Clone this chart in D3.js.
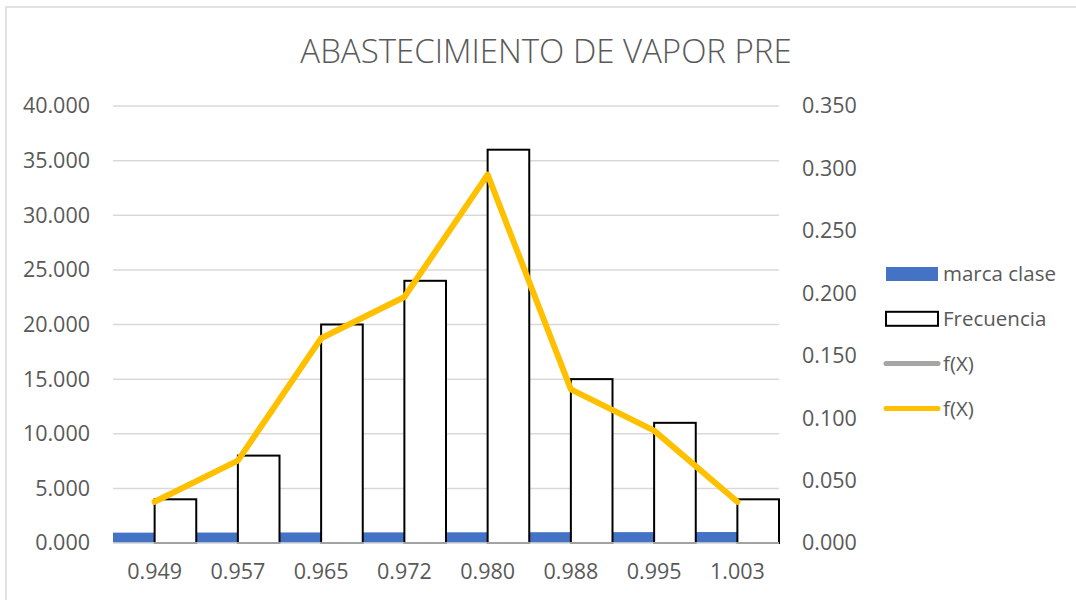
<!DOCTYPE html>
<html>
<head>
<meta charset="utf-8">
<script src="https://cdn.jsdelivr.net/npm/d3@7"></script>
<style>
  body { margin: 0; background: #fff; }
  svg { font-family: "Open Sans", "Noto Sans", sans-serif; }
</style>
</head>
<body>
<svg></svg>
<script>
// chart data
const categories = ['0.949', '0.957', '0.965', '0.972', '0.980', '0.988', '0.995', '1.003'];
const marcaClase = [0.949, 0.957, 0.965, 0.972, 0.980, 0.988, 0.995, 1.003];
const frecuencia = [4, 8, 20, 24, 36, 15, 11, 4];
const fx = [0.033, 0.066, 0.164, 0.197, 0.295, 0.123, 0.090, 0.033];
const leftTicks = [0, 5, 10, 15, 20, 25, 30, 35, 40];
const rightTicks = [0, 0.05, 0.1, 0.15, 0.2, 0.25, 0.3, 0.35];

const size = {w: 1076, h: 600};
const plot = {l: 113, r: 779, t: 106, b: 543};
const textColor = '#595959';

const svg = d3.select('svg')
    .attr('width', size.w)
    .attr('height', size.h);

// chart border
svg.append('rect')
    .attr('x', 6).attr('y', 7)
    .attr('width', size.w + 10).attr('height', size.h + 10)
    .attr('fill', 'none')
    .attr('stroke', '#d9d9d9')
    .attr('stroke-width', 1.5);

// title
svg.append('text')
    .attr('x', 546).attr('y', 63)
    .attr('text-anchor', 'middle')
    .attr('fill', textColor)
    .attr('font-size', 33)
    .attr('font-weight', 300)
    .text('ABASTECIMIENTO DE VAPOR PRE');

// scales
let x = d3.scaleBand()
    .domain(categories)
    .range([plot.l, plot.r])
    .paddingInner(0).paddingOuter(0);

let yLeft = d3.scaleLinear().domain([0, 40]).range([plot.b, plot.t]);
let yRight = d3.scaleLinear().domain([0, 0.35]).range([plot.b, plot.t]);

// gridlines
svg.append('g')
    .selectAll('line')
    .data(leftTicks)
    .enter()
    .append('line')
    .attr('x1', plot.l).attr('x2', plot.r)
    .attr('y1', d => yLeft(d)).attr('y2', d => yLeft(d))
    .attr('stroke', '#d9d9d9')
    .attr('stroke-width', 1.5);

// left axis
let leftAxis = svg.append('g')
    .attr('transform', `translate(${plot.l},0)`)
    .call(d3.axisLeft(yLeft).tickValues(leftTicks).tickFormat(d3.format('.3f')).tickSize(0).tickPadding(23));
leftAxis.select('.domain').remove();

// right axis
let rightAxis = svg.append('g')
    .attr('transform', `translate(${plot.r},0)`)
    .call(d3.axisRight(yRight).tickValues(rightTicks).tickFormat(d3.format('.3f')).tickSize(0).tickPadding(23));
rightAxis.select('.domain').remove();

// bottom axis labels
let bottomAxis = svg.append('g')
    .attr('transform', `translate(0,${plot.b})`)
    .call(d3.axisBottom(x).tickSize(0).tickPadding(21));
bottomAxis.select('.domain').remove();

svg.selectAll('.tick text')
    .attr('fill', textColor)
    .attr('font-size', 21.5)
    .attr('font-family', '"Open Sans", "Noto Sans", sans-serif');

// bars
let half = x.bandwidth() / 2;
let barsG = svg.append('g');

barsG.selectAll('rect.marca')
    .data(marcaClase)
    .enter()
    .append('rect')
    .classed('marca', true)
    .attr('x', (d, i) => x(categories[i]))
    .attr('width', half)
    .attr('y', d => yLeft(d))
    .attr('height', d => plot.b - yLeft(d))
    .attr('fill', '#4472c4');

barsG.selectAll('rect.freq')
    .data(frecuencia)
    .enter()
    .append('rect')
    .classed('freq', true)
    .attr('x', (d, i) => x(categories[i]) + half)
    .attr('width', half)
    .attr('y', d => yLeft(d))
    .attr('height', d => plot.b - yLeft(d))
    .attr('fill', '#fff')
    .attr('stroke', '#000')
    .attr('stroke-width', 2);

// baseline
svg.append('line')
    .attr('x1', plot.l).attr('x2', plot.r)
    .attr('y1', plot.b).attr('y2', plot.b)
    .attr('stroke', '#d9d9d9')
    .attr('stroke-width', 1.5);

// f(X) line on secondary axis
let line = d3.line()
    .x((d, i) => x(categories[i]) + half)
    .y(d => yRight(d));

svg.append('path')
    .datum(fx)
    .attr('d', line)
    .attr('fill', 'none')
    .attr('stroke', '#ffc000')
    .attr('stroke-width', 6)
    .attr('stroke-linejoin', 'round')
    .attr('stroke-linecap', 'round');

// legend
const legendItems = [
    {name: 'marca clase', type: 'bar', fill: '#4472c4', stroke: 'none'},
    {name: 'Frecuencia', type: 'bar', fill: '#fff', stroke: '#000'},
    {name: 'f(X)', type: 'line', stroke: '#a5a5a5'},
    {name: 'f(X)', type: 'line', stroke: '#ffc000'}
];

let legendG = svg.append('g').attr('transform', 'translate(886,274)');
let item = legendG.selectAll('g')
    .data(legendItems)
    .enter()
    .append('g')
    .attr('transform', (d, i) => `translate(0,${i * 44.8})`);

item.filter(d => d.type === 'bar')
    .append('rect')
    .attr('x', 0).attr('y', -7)
    .attr('width', 52).attr('height', 14)
    .attr('fill', d => d.fill)
    .attr('stroke', d => d.stroke)
    .attr('stroke-width', 2);

item.filter(d => d.type === 'line')
    .append('line')
    .attr('x1', 0).attr('x2', 52)
    .attr('y1', 0).attr('y2', 0)
    .attr('stroke', d => d.stroke)
    .attr('stroke-width', 5)
    .attr('stroke-linecap', 'round');

item.append('text')
    .attr('x', 57)
    .attr('dy', '0.35em')
    .attr('fill', textColor)
    .attr('font-size', 20.5)
    .text(d => d.name);
</script>
</body>
</html>
